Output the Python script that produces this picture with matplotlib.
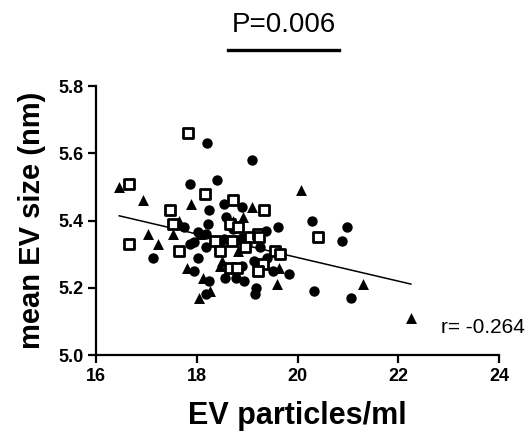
import numpy as np
import matplotlib
matplotlib.use("Agg")
import matplotlib.pyplot as plt

plt.rcParams['font.family'] = ['Liberation Sans', 'DejaVu Sans']

# EV particles/ml vs mean EV size (nm), three groups
circle_x = [18.21, 19.09, 17.86, 18.40, 18.55, 18.89, 18.24, 18.59, 18.22, 17.74,
            18.72, 19.61, 19.37, 20.29, 20.99, 20.89, 18.19, 17.87, 17.94, 18.18,
            18.47, 18.55, 18.90, 18.44, 18.99, 19.25, 17.14, 18.03, 19.14, 19.39,
            18.89, 19.52, 19.84, 17.95, 18.56, 18.77, 18.94, 18.24, 19.18, 19.15,
            18.19, 20.33, 21.07, 18.02]
circle_y = [5.63, 5.58, 5.51, 5.52, 5.45, 5.44, 5.43, 5.41, 5.39, 5.38,
            5.375, 5.38, 5.37, 5.40, 5.38, 5.34, 5.36, 5.33, 5.337, 5.32,
            5.335, 5.345, 5.347, 5.32, 5.326, 5.32, 5.29, 5.29, 5.28, 5.29,
            5.266, 5.25, 5.24, 5.25, 5.23, 5.23, 5.22, 5.22, 5.20, 5.18,
            5.18, 5.19, 5.17, 5.365]

square_x = [17.83, 16.66, 18.17, 18.72, 19.33, 17.47, 17.53, 18.66, 18.82, 16.66,
            17.64, 18.36, 18.69, 19.06, 19.21, 19.23, 18.46, 18.96, 19.55, 19.66,
            19.32, 19.22, 18.66, 18.79, 20.41]
square_y = [5.66, 5.51, 5.48, 5.46, 5.43, 5.43, 5.39, 5.39, 5.38, 5.33,
            5.31, 5.34, 5.34, 5.35, 5.36, 5.35, 5.31, 5.32, 5.31, 5.30,
            5.27, 5.25, 5.26, 5.26, 5.35]

triangle_x = [16.46, 16.94, 17.88, 19.10, 20.07, 18.91, 18.71, 17.65, 17.53, 17.04,
              17.24, 18.06, 18.81, 18.51, 18.46, 19.64, 17.80, 18.13, 18.26, 18.05,
              19.60, 21.30, 22.25]
triangle_y = [5.50, 5.46, 5.45, 5.44, 5.49, 5.41, 5.40, 5.40, 5.36, 5.36,
              5.33, 5.36, 5.31, 5.28, 5.265, 5.26, 5.26, 5.23, 5.19, 5.17,
              5.21, 5.21, 5.11]

# regression line end points
fit_x = [16.46, 22.25]
fit_y = [5.414, 5.211]

r_text = "r= -0.264"
p_text = "P=0.006"

fig = plt.figure(figsize=(5.32, 4.37), dpi=100)
ax = fig.add_axes([0.1805, 0.1876, 0.7575, 0.6156])

ax.scatter(circle_x, circle_y, marker='o', s=56, color='black', linewidths=0, zorder=3)
ax.scatter(triangle_x, triangle_y, marker='^', s=62, color='black', linewidths=0, zorder=3)
ax.scatter(square_x, square_y, marker='s', s=44, facecolor='white', edgecolor='black',
           linewidths=2.0, zorder=4)
ax.plot(fit_x, fit_y, color='black', lw=1.1, zorder=2)

ax.set_xlim(16, 24)
ax.set_ylim(5.0, 5.8)
ax.set_xticks([16, 18, 20, 22, 24])
ax.set_yticks([5.0, 5.2, 5.4, 5.6, 5.8])
ax.set_yticklabels(['5.0', '5.2', '5.4', '5.6', '5.8'])

for s in ['top', 'right']:
    ax.spines[s].set_visible(False)
for s in ['left', 'bottom']:
    ax.spines[s].set_linewidth(1.6)
ax.tick_params(width=1.6, length=6, labelsize=13, pad=3)
for lbl in ax.get_xticklabels() + ax.get_yticklabels():
    lbl.set_fontweight('bold')

ax.set_xlabel('EV particles/ml', fontsize=22, fontweight='bold', labelpad=12)
ax.set_ylabel('mean EV size (nm)', fontsize=21, fontweight='bold', labelpad=9)

ax.text(22.85, 5.083, r_text, fontsize=15, va='center', ha='left', clip_on=False)

fig.text(283.5 / 532, 1 - 25 / 437, p_text, fontsize=20, ha='center', va='center')
fig.add_artist(plt.Line2D([228 / 532, 339 / 532], [1 - 50 / 437, 1 - 50 / 437],
                          color='black', lw=2.4))

fig.savefig('out.png', dpi=100)
